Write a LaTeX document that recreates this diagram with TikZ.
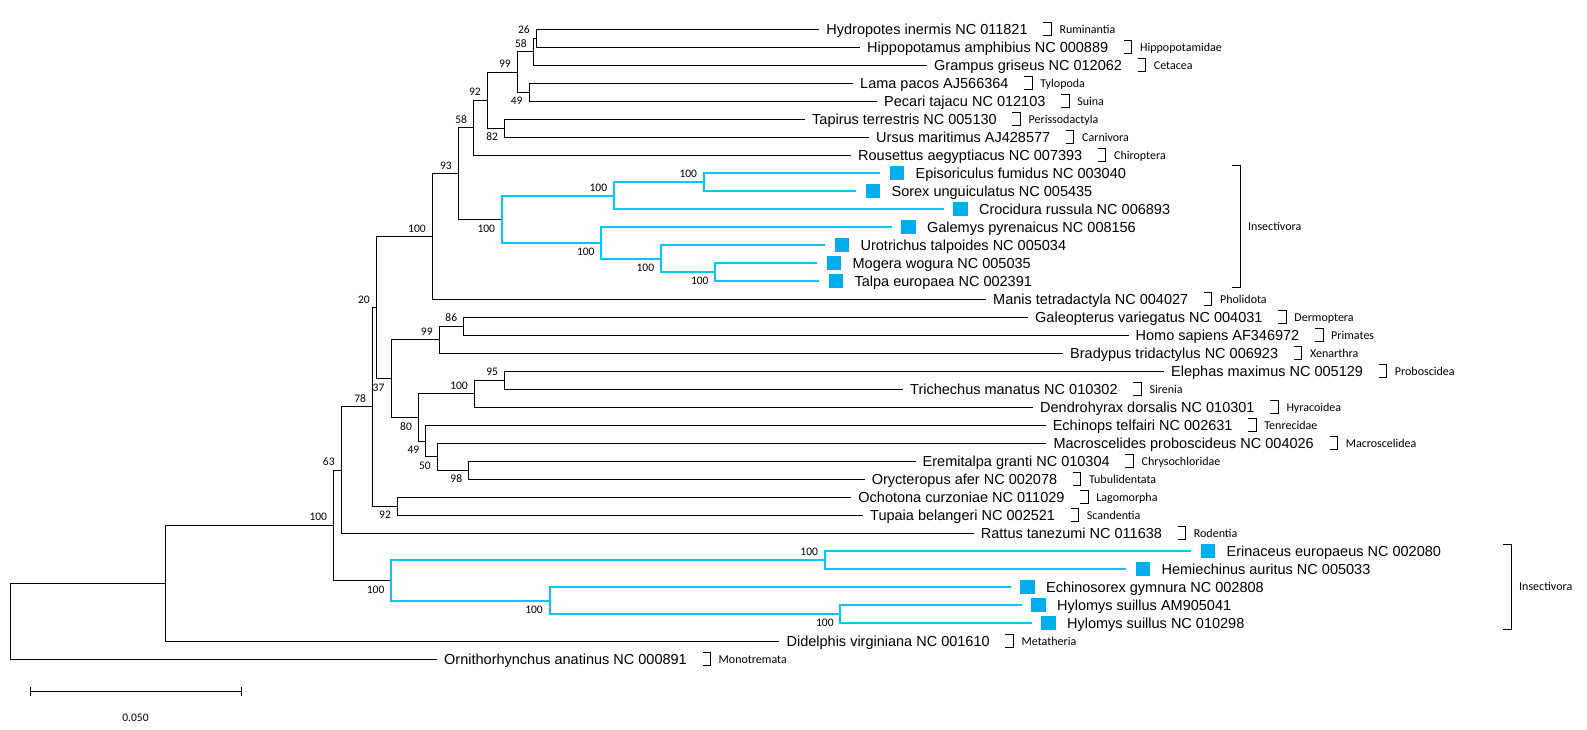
\documentclass[tikz,border=0pt]{standalone}
\usepackage{fontspec}
\setmainfont{Liberation Sans}
\newfontfamily\labelfont{Carlito}
\usetikzlibrary{positioning}

\definecolor{insectline}{RGB}{0,200,255}
\definecolor{insectsq}{RGB}{0,174,239}

\begin{document}
\begin{tikzpicture}[
    x=1pt, y=-1pt,
    branch/.style={line width=1pt},
    insect/.style={line width=2pt, insectline},
    taxon/.style={anchor=west, inner sep=0pt, text height=10.4pt, text depth=0pt, font=\fontsize{14.5}{16}\selectfont},
    sq/.style={fill=insectsq, minimum width=14.5pt, minimum height=14pt, inner sep=0pt},
    boot/.style={anchor=east, inner sep=0pt, text height=7.3pt, text depth=0pt, xshift=-6.5pt, font=\labelfont\fontsize{11.5}{12}\selectfont},
    bsup/.style={boot, yshift=8pt},
    bsdown/.style={boot, yshift=-9pt},
    grp/.style={anchor=west, inner sep=0pt, text height=7.7pt, text depth=0pt, font=\labelfont\fontsize{12}{13}\selectfont},
    bracket/.style={line width=1pt}
]
\useasboundingbox (0,0) rectangle (1587,730);

% Leaf tips
\coordinate (e-hydro) at (819.2,29.3);
\coordinate (e-hippo) at (860,47.3);
\coordinate (e-grampus) at (927,65.3);
\coordinate (e-lama) at (853,83.3);
\coordinate (e-pecari) at (877,101.3);
\coordinate (e-tapirus) at (805,119.3);
\coordinate (e-ursus) at (869,137.3);
\coordinate (e-rousettus) at (851,155.3);
\coordinate (e-episoriculus) at (880,173.3);
\coordinate (e-sorex) at (856,191.3);
\coordinate (e-crocidura) at (943.5,209.3);
\coordinate (e-galemys) at (891.5,227.3);
\coordinate (e-urotrichus) at (825,245.3);
\coordinate (e-mogera) at (817,263.3);
\coordinate (e-talpa) at (819,281.3);
\coordinate (e-manis) at (986,299.3);
\coordinate (e-galeopterus) at (1028,317.3);
\coordinate (e-homo) at (1128.5,335.3);
\coordinate (e-bradypus) at (1063,353.3);
\coordinate (e-elephas) at (1164,371.3);
\coordinate (e-trichechus) at (903,389.3);
\coordinate (e-dendrohyrax) at (1033,407.3);
\coordinate (e-echinops) at (1045.6,425.3);
\coordinate (e-macroscelides) at (1046.3,443.3);
\coordinate (e-eremitalpa) at (915.5,461.3);
\coordinate (e-orycteropus) at (864.6,479.3);
\coordinate (e-ochotona) at (851.2,497.3);
\coordinate (e-tupaia) at (863,515.3);
\coordinate (e-rattus) at (973.7,533.3);
\coordinate (e-erinaceus) at (1191,551.3);
\coordinate (e-hemiechinus) at (1126,569.3);
\coordinate (e-echinosorex) at (1010.5,587.3);
\coordinate (e-hylomysa) at (1021.5,605.3);
\coordinate (e-hylomysb) at (1031.5,623.3);
\coordinate (e-didelphis) at (779.4,641.3);
\coordinate (e-ornitho) at (437,659.3);

% Inner nodes
\coordinate (b26) at (536.5,38.3);
\coordinate (b58a) at (533.4,51.8);
\coordinate (b49a) at (529.2,92.3);
\coordinate (b99a) at (517.4,72.05);
\coordinate (b82) at (504.7,128.3);
\coordinate (b92a) at (487.5,100.2);
\coordinate (b58b) at (473.7,127.7);
\coordinate (b93) at (458.4,173.6);
\coordinate (b100a) at (432.4,236.4);
\coordinate (c1) at (501.7,219.4);
\coordinate (c2) at (613.8,195.8);
\coordinate (c3) at (703.7,182.3);
\coordinate (c4) at (601.2,243.05);
\coordinate (c5) at (660.8,258.8);
\coordinate (c6) at (715.2,272.3);
\coordinate (b86) at (463.8,326.3);
\coordinate (b99b) at (439.3,339.8);
\coordinate (b95) at (504.7,380.3);
\coordinate (b100b) at (474.5,393.8);
\coordinate (b98) at (468.8,470.3);
\coordinate (b50) at (437.4,456.8);
\coordinate (b49b) at (425.9,441.05);
\coordinate (b80) at (418.6,417.4);
\coordinate (b37) at (391.1,378.6);
\coordinate (b20) at (376.5,307.5);
\coordinate (b92b) at (397.6,506.3);
\coordinate (b78) at (372.7,406.9);
\coordinate (b63) at (341.3,470.1);
\coordinate (b100c) at (333.7,525.3);
\coordinate (c7) at (391.1,580.55);
\coordinate (c8) at (824.6,560.3);
\coordinate (c9) at (549.5,600.8);
\coordinate (c10) at (840.3,614.3);
\coordinate (mam) at (165.3,583.3);
\coordinate (root) at (10.3,621.3);

% Taxa
\node[taxon, right=7pt of e-hydro] (hydro) {Hydropotes inermis NC 011821};
\node[taxon, right=7pt of e-hippo] (hippo) {Hippopotamus amphibius NC 000889};
\node[taxon, right=7pt of e-grampus] (grampus) {Grampus griseus NC 012062};
\node[taxon, right=7pt of e-lama] (lama) {Lama pacos AJ566364};
\node[taxon, right=7pt of e-pecari] (pecari) {Pecari tajacu NC 012103};
\node[taxon, right=7pt of e-tapirus] (tapirus) {Tapirus terrestris NC 005130};
\node[taxon, right=7pt of e-ursus] (ursus) {Ursus maritimus AJ428577};
\node[taxon, right=7pt of e-rousettus] (rousettus) {Rousettus aegyptiacus NC 007393};
\node[sq, right=9.5pt of e-episoriculus] (q-episoriculus) {};
\node[taxon, right=11pt of q-episoriculus] (episoriculus) {Episoriculus fumidus NC 003040};
\node[sq, right=9.5pt of e-sorex] (q-sorex) {};
\node[taxon, right=11pt of q-sorex] (sorex) {Sorex unguiculatus NC 005435};
\node[sq, right=9.5pt of e-crocidura] (q-crocidura) {};
\node[taxon, right=11pt of q-crocidura] (crocidura) {Crocidura russula NC 006893};
\node[sq, right=9.5pt of e-galemys] (q-galemys) {};
\node[taxon, right=11pt of q-galemys] (galemys) {Galemys pyrenaicus NC 008156};
\node[sq, right=9.5pt of e-urotrichus] (q-urotrichus) {};
\node[taxon, right=11pt of q-urotrichus] (urotrichus) {Urotrichus talpoides NC 005034};
\node[sq, right=9.5pt of e-mogera] (q-mogera) {};
\node[taxon, right=11pt of q-mogera] (mogera) {Mogera wogura NC 005035};
\node[sq, right=9.5pt of e-talpa] (q-talpa) {};
\node[taxon, right=11pt of q-talpa] (talpa) {Talpa europaea NC 002391};
\node[taxon, right=7pt of e-manis] (manis) {Manis tetradactyla NC 004027};
\node[taxon, right=7pt of e-galeopterus] (galeopterus) {Galeopterus variegatus NC 004031};
\node[taxon, right=7pt of e-homo] (homo) {Homo sapiens AF346972};
\node[taxon, right=7pt of e-bradypus] (bradypus) {Bradypus tridactylus NC 006923};
\node[taxon, right=7pt of e-elephas] (elephas) {Elephas maximus NC 005129};
\node[taxon, right=7pt of e-trichechus] (trichechus) {Trichechus manatus NC 010302};
\node[taxon, right=7pt of e-dendrohyrax] (dendrohyrax) {Dendrohyrax dorsalis NC 010301};
\node[taxon, right=7pt of e-echinops] (echinops) {Echinops telfairi NC 002631};
\node[taxon, right=7pt of e-macroscelides] (macroscelides) {Macroscelides proboscideus NC 004026};
\node[taxon, right=7pt of e-eremitalpa] (eremitalpa) {Eremitalpa granti NC 010304};
\node[taxon, right=7pt of e-orycteropus] (orycteropus) {Orycteropus afer NC 002078};
\node[taxon, right=7pt of e-ochotona] (ochotona) {Ochotona curzoniae NC 011029};
\node[taxon, right=7pt of e-tupaia] (tupaia) {Tupaia belangeri NC 002521};
\node[taxon, right=7pt of e-rattus] (rattus) {Rattus tanezumi NC 011638};
\node[sq, right=9.5pt of e-erinaceus] (q-erinaceus) {};
\node[taxon, right=11pt of q-erinaceus] (erinaceus) {Erinaceus europaeus NC 002080};
\node[sq, right=9.5pt of e-hemiechinus] (q-hemiechinus) {};
\node[taxon, right=11pt of q-hemiechinus] (hemiechinus) {Hemiechinus auritus NC 005033};
\node[sq, right=9.5pt of e-echinosorex] (q-echinosorex) {};
\node[taxon, right=11pt of q-echinosorex] (echinosorex) {Echinosorex gymnura NC 002808};
\node[sq, right=9.5pt of e-hylomysa] (q-hylomysa) {};
\node[taxon, right=11pt of q-hylomysa] (hylomysa) {Hylomys suillus AM905041};
\node[sq, right=9.5pt of e-hylomysb] (q-hylomysb) {};
\node[taxon, right=11pt of q-hylomysb] (hylomysb) {Hylomys suillus NC 010298};
\node[taxon, right=7pt of e-didelphis] (didelphis) {Didelphis virginiana NC 001610};
\node[taxon, right=7pt of e-ornitho] (ornitho) {Ornithorhynchus anatinus NC 000891};

% Branches
\draw[branch] (b26) |- (e-hydro) (b26) |- (e-hippo);
\draw[branch] (b58a) |- (b26) (b58a) |- (e-grampus);
\draw[branch] (b49a) |- (e-lama) (b49a) |- (e-pecari);
\draw[branch] (b99a) |- (b58a) (b99a) |- (b49a);
\draw[branch] (b82) |- (e-tapirus) (b82) |- (e-ursus);
\draw[branch] (b92a) |- (b99a) (b92a) |- (b82);
\draw[branch] (b58b) |- (b92a) (b58b) |- (e-rousettus);
\draw[branch] (b93) |- (b58b) (b93) |- (c1);
\draw[branch] (b100a) |- (b93) (b100a) |- (e-manis);
\draw[insect] (c1) |- (c2) (c1) |- (c4);
\draw[insect] (c2) |- (c3) (c2) |- (e-crocidura);
\draw[insect] (c3) |- (e-episoriculus) (c3) |- (e-sorex);
\draw[insect] (c4) |- (e-galemys) (c4) |- (c5);
\draw[insect] (c5) |- (e-urotrichus) (c5) |- (c6);
\draw[insect] (c6) |- (e-mogera) (c6) |- (e-talpa);
\draw[branch] (b86) |- (e-galeopterus) (b86) |- (e-homo);
\draw[branch] (b99b) |- (b86) (b99b) |- (e-bradypus);
\draw[branch] (b95) |- (e-elephas) (b95) |- (e-trichechus);
\draw[branch] (b100b) |- (b95) (b100b) |- (e-dendrohyrax);
\draw[branch] (b98) |- (e-eremitalpa) (b98) |- (e-orycteropus);
\draw[branch] (b50) |- (e-macroscelides) (b50) |- (b98);
\draw[branch] (b49b) |- (e-echinops) (b49b) |- (b50);
\draw[branch] (b80) |- (b100b) (b80) |- (b49b);
\draw[branch] (b37) |- (b99b) (b37) |- (b80);
\draw[branch] (b20) |- (b100a) (b20) |- (b37);
\draw[branch] (b92b) |- (e-ochotona) (b92b) |- (e-tupaia);
\draw[branch] (b78) |- (b20) (b78) |- (b92b);
\draw[branch] (b63) |- (b78) (b63) |- (e-rattus);
\draw[branch] (b100c) |- (b63) (b100c) |- (c7);
\draw[insect] (c7) |- (c8) (c7) |- (c9);
\draw[insect] (c8) |- (e-erinaceus) (c8) |- (e-hemiechinus);
\draw[insect] (c9) |- (e-echinosorex) (c9) |- (c10);
\draw[insect] (c10) |- (e-hylomysa) (c10) |- (e-hylomysb);
\draw[branch] (mam) |- (b100c) (mam) |- (e-didelphis);
\draw[branch] (root) |- (mam) (root) |- (e-ornitho);

% Bootstrap values
\node[bsup] (l26) at (b26) {26};
\node[bsup] (l58a) at (b58a) {58};
\node[bsdown] (l49a) at (b49a) {49};
\node[bsup] (l99a) at (b99a) {99};
\node[bsdown] (l82) at (b82) {82};
\node[bsup] (l92a) at (b92a) {92};
\node[bsup] (l58b) at (b58b) {58};
\node[bsup] (l93) at (b93) {93};
\node[bsup] (l100a) at (b100a) {100};
\node[bsdown] (lc1) at (c1) {100};
\node[bsup] (lc2) at (c2) {100};
\node[bsup] (lc3) at (c3) {100};
\node[bsdown] (lc4) at (c4) {100};
\node[bsdown] (lc5) at (c5) {100};
\node[bsdown] (lc6) at (c6) {100};
\node[bsup] (l86) at (b86) {86};
\node[bsup] (l99b) at (b99b) {99};
\node[bsup] (l95) at (b95) {95};
\node[bsup] (l100b) at (b100b) {100};
\node[bsdown] (l98) at (b98) {98};
\node[bsdown] (l50) at (b50) {50};
\node[bsdown] (l49b) at (b49b) {49};
\node[bsdown] (l80) at (b80) {80};
\node[bsdown] (l37) at (b37) {37};
\node[bsup] (l20) at (b20) {20};
\node[bsdown] (l92b) at (b92b) {92};
\node[bsup] (l78) at (b78) {78};
\node[bsup] (l63) at (b63) {63};
\node[bsup] (l100c) at (b100c) {100};
\node[bsdown] (lc7) at (c7) {100};
\node[bsup] (lc8) at (c8) {100};
\node[bsdown] (lc9) at (c9) {100};
\node[bsdown] (lc10) at (c10) {100};

% Orders
\node[grp, right=31.5pt of hydro.east] (ruminantia) {Ruminantia};
\node[grp, right=31.5pt of hippo.east] (hippopotamidae) {Hippopotamidae};
\node[grp, right=31.5pt of grampus.east] (cetacea) {Cetacea};
\node[grp, right=31.5pt of lama.east] (tylopoda) {Tylopoda};
\node[grp, right=31.5pt of pecari.east] (suina) {Suina};
\node[grp, right=31.5pt of tapirus.east] (perissodactyla) {Perissodactyla};
\node[grp, right=31.5pt of ursus.east] (carnivora) {Carnivora};
\node[grp, right=31.5pt of rousettus.east] (chiroptera) {Chiroptera};
\node[grp, right=31.5pt of manis.east] (pholidota) {Pholidota};
\node[grp, right=31.5pt of galeopterus.east] (dermoptera) {Dermoptera};
\node[grp, right=31.5pt of homo.east] (primates) {Primates};
\node[grp, right=31.5pt of bradypus.east] (xenarthra) {Xenarthra};
\node[grp, right=31.5pt of elephas.east] (proboscidea) {Proboscidea};
\node[grp, right=31.5pt of trichechus.east] (sirenia) {Sirenia};
\node[grp, right=31.5pt of dendrohyrax.east] (hyracoidea) {Hyracoidea};
\node[grp, right=31.5pt of echinops.east] (tenrecidae) {Tenrecidae};
\node[grp, right=31.5pt of macroscelides.east] (macroscelidea) {Macroscelidea};
\node[grp, right=31.5pt of eremitalpa.east] (chrysochloridae) {Chrysochloridae};
\node[grp, right=31.5pt of orycteropus.east] (tubulidentata) {Tubulidentata};
\node[grp, right=31.5pt of ochotona.east] (lagomorpha) {Lagomorpha};
\node[grp, right=31.5pt of tupaia.east] (scandentia) {Scandentia};
\node[grp, right=31.5pt of rattus.east] (rodentia) {Rodentia};
\node[grp, right=31.5pt of didelphis.east] (metatheria) {Metatheria};
\node[grp, right=31.5pt of ornitho.east] (monotremata) {Monotremata};
\node[grp] (insecta) at (1248,227) {Insectivora};
\node[grp] (insectb) at (1519,587) {Insectivora};

% Brackets
\draw[bracket] ([xshift=-16pt,yshift=6.5pt]ruminantia.west) -| ([xshift=-8pt,yshift=-6.5pt]ruminantia.west) -- ++(-8,0);
\draw[bracket] ([xshift=-16pt,yshift=6.5pt]hippopotamidae.west) -| ([xshift=-8pt,yshift=-6.5pt]hippopotamidae.west) -- ++(-8,0);
\draw[bracket] ([xshift=-16pt,yshift=6.5pt]cetacea.west) -| ([xshift=-8pt,yshift=-6.5pt]cetacea.west) -- ++(-8,0);
\draw[bracket] ([xshift=-16pt,yshift=6.5pt]tylopoda.west) -| ([xshift=-8pt,yshift=-6.5pt]tylopoda.west) -- ++(-8,0);
\draw[bracket] ([xshift=-16pt,yshift=6.5pt]suina.west) -| ([xshift=-8pt,yshift=-6.5pt]suina.west) -- ++(-8,0);
\draw[bracket] ([xshift=-16pt,yshift=6.5pt]perissodactyla.west) -| ([xshift=-8pt,yshift=-6.5pt]perissodactyla.west) -- ++(-8,0);
\draw[bracket] ([xshift=-16pt,yshift=6.5pt]carnivora.west) -| ([xshift=-8pt,yshift=-6.5pt]carnivora.west) -- ++(-8,0);
\draw[bracket] ([xshift=-16pt,yshift=6.5pt]chiroptera.west) -| ([xshift=-8pt,yshift=-6.5pt]chiroptera.west) -- ++(-8,0);
\draw[bracket] ([xshift=-16pt,yshift=6.5pt]pholidota.west) -| ([xshift=-8pt,yshift=-6.5pt]pholidota.west) -- ++(-8,0);
\draw[bracket] ([xshift=-16pt,yshift=6.5pt]dermoptera.west) -| ([xshift=-8pt,yshift=-6.5pt]dermoptera.west) -- ++(-8,0);
\draw[bracket] ([xshift=-16pt,yshift=6.5pt]primates.west) -| ([xshift=-8pt,yshift=-6.5pt]primates.west) -- ++(-8,0);
\draw[bracket] ([xshift=-16pt,yshift=6.5pt]xenarthra.west) -| ([xshift=-8pt,yshift=-6.5pt]xenarthra.west) -- ++(-8,0);
\draw[bracket] ([xshift=-16pt,yshift=6.5pt]proboscidea.west) -| ([xshift=-8pt,yshift=-6.5pt]proboscidea.west) -- ++(-8,0);
\draw[bracket] ([xshift=-16pt,yshift=6.5pt]sirenia.west) -| ([xshift=-8pt,yshift=-6.5pt]sirenia.west) -- ++(-8,0);
\draw[bracket] ([xshift=-16pt,yshift=6.5pt]hyracoidea.west) -| ([xshift=-8pt,yshift=-6.5pt]hyracoidea.west) -- ++(-8,0);
\draw[bracket] ([xshift=-16pt,yshift=6.5pt]tenrecidae.west) -| ([xshift=-8pt,yshift=-6.5pt]tenrecidae.west) -- ++(-8,0);
\draw[bracket] ([xshift=-16pt,yshift=6.5pt]macroscelidea.west) -| ([xshift=-8pt,yshift=-6.5pt]macroscelidea.west) -- ++(-8,0);
\draw[bracket] ([xshift=-16pt,yshift=6.5pt]chrysochloridae.west) -| ([xshift=-8pt,yshift=-6.5pt]chrysochloridae.west) -- ++(-8,0);
\draw[bracket] ([xshift=-16pt,yshift=6.5pt]tubulidentata.west) -| ([xshift=-8pt,yshift=-6.5pt]tubulidentata.west) -- ++(-8,0);
\draw[bracket] ([xshift=-16pt,yshift=6.5pt]lagomorpha.west) -| ([xshift=-8pt,yshift=-6.5pt]lagomorpha.west) -- ++(-8,0);
\draw[bracket] ([xshift=-16pt,yshift=6.5pt]scandentia.west) -| ([xshift=-8pt,yshift=-6.5pt]scandentia.west) -- ++(-8,0);
\draw[bracket] ([xshift=-16pt,yshift=6.5pt]rodentia.west) -| ([xshift=-8pt,yshift=-6.5pt]rodentia.west) -- ++(-8,0);
\draw[bracket] ([xshift=-16pt,yshift=6.5pt]metatheria.west) -| ([xshift=-8pt,yshift=-6.5pt]metatheria.west) -- ++(-8,0);
\draw[bracket] ([xshift=-16pt,yshift=6.5pt]monotremata.west) -| ([xshift=-8pt,yshift=-6.5pt]monotremata.west) -- ++(-8,0);
\draw[bracket] (1232.3,166) -| ([xshift=-7.5pt]insecta.west |- 0,287.7) -- ++(-8.4,0);
\draw[bracket] (1503,544) -| ([xshift=-7.5pt]insectb.west |- 0,629.3) -- ++(-8.4,0);

% Scale bar
\coordinate (sb-l) at (30.3,691.5);
\coordinate (sb-r) at (241.5,691.5);
\draw[branch] (sb-l) -- (sb-r);
\draw[branch] ([yshift=4.2pt]sb-l) -- ([yshift=-4.2pt]sb-l);
\draw[branch] ([yshift=4.2pt]sb-r) -- ([yshift=-4.2pt]sb-r);
\node[inner sep=0pt, font=\labelfont\fontsize{11.5}{12}\selectfont] (sb-txt) at (135.5,718) {0.050};

\end{tikzpicture}
\end{document}
